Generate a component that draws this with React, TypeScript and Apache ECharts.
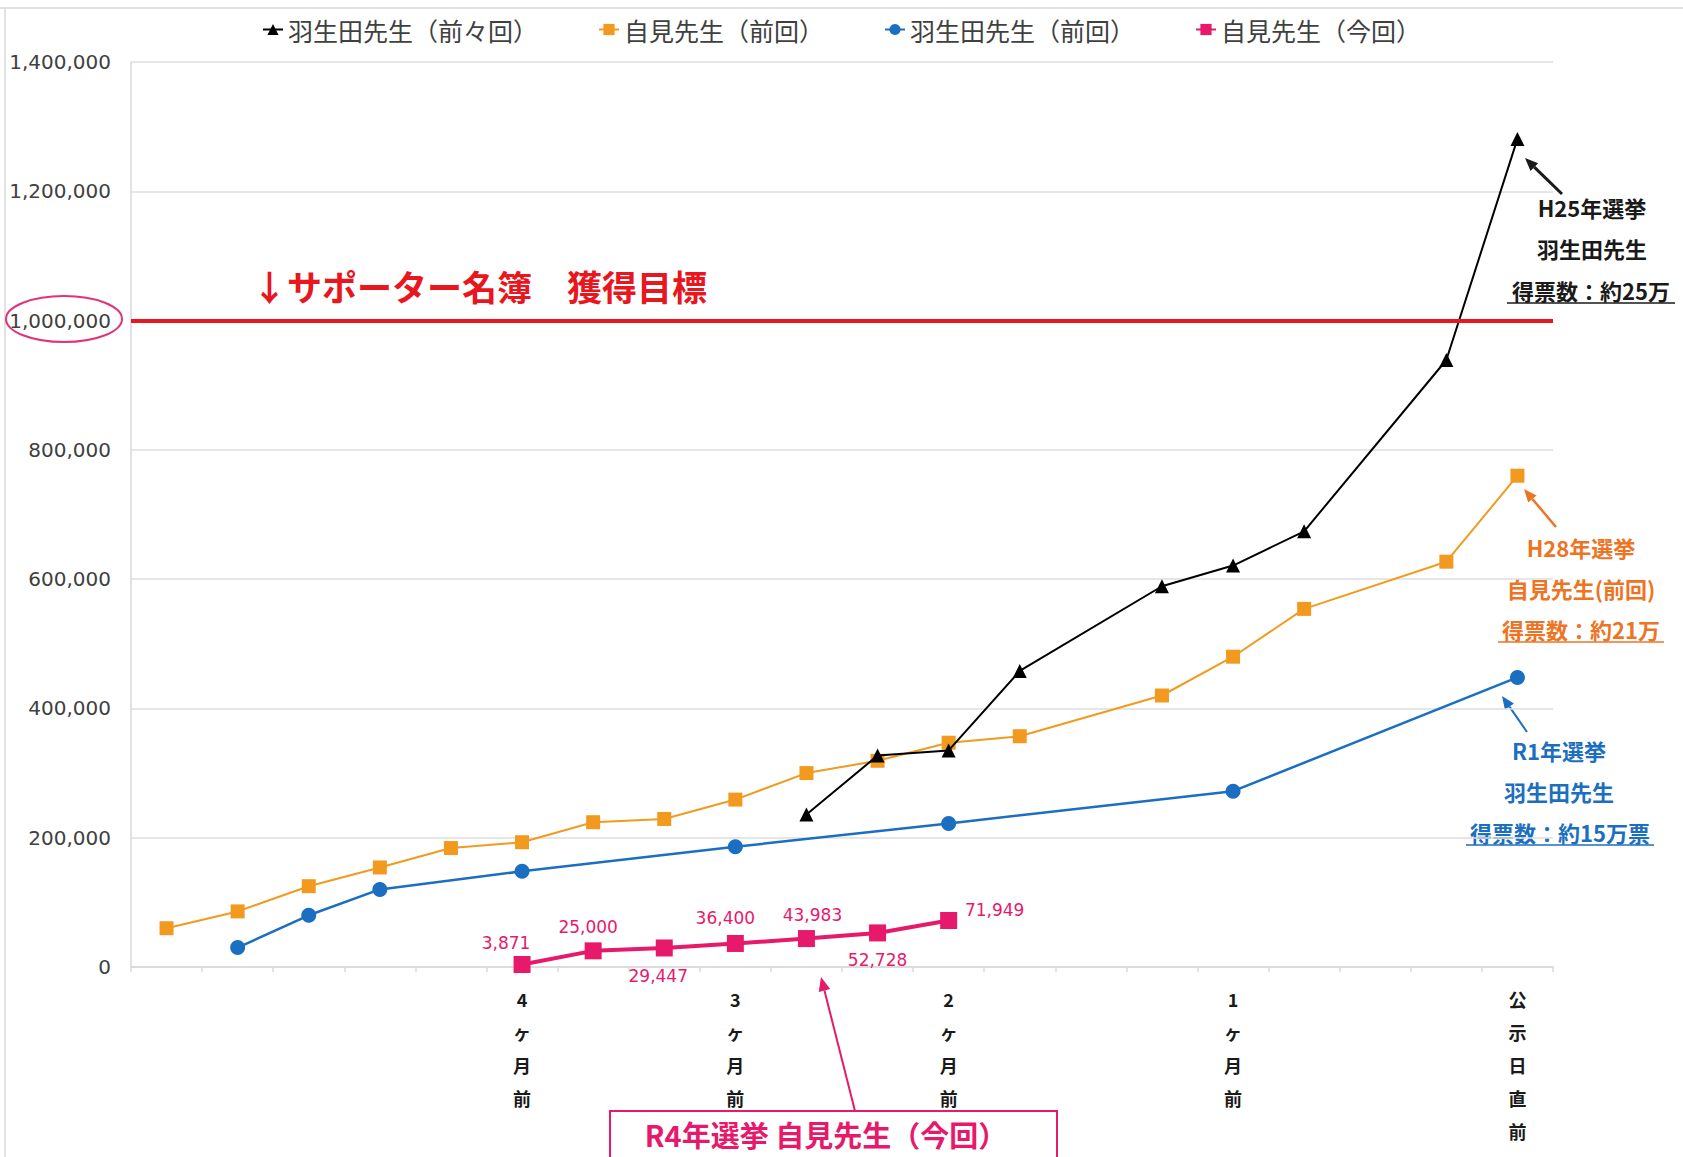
import React, { useEffect, useRef } from "react";
import * as echarts from "echarts";

const categories: string[] = [
  "", "", "", "", "", "4ヶ月前", "", "", "3ヶ月前", "", "", "2ヶ月前",
  "", "", "", "1ヶ月前", "", "", "", "公示日直前",
];

const seriesNames = ["羽生田先生（前々回）", "自見先生（前回）", "羽生田先生（前回）", "自見先生（今回）"];

const hanyudaH25: (number | null)[] = [
  null, null, null, null, null, null, null, null, null, 236000, 327000, 335000,
  458000, null, 589000, 621000, 674000, null, 939000, 1281000,
];
const jimiH28: (number | null)[] = [
  60000, 86000, 125000, 154000, 184000, 193000, 224000, 229000, 259000, 300000, 319000, 347000,
  357000, null, 420000, 480000, 554000, null, 627000, 760000,
];
const hanyudaR1: (number | null)[] = [
  null, 30000, 80000, 120000, null, 148000, null, null, 186000, null, null, 222000,
  null, null, null, 272000, null, null, null, 448000,
];
const jimiR4: (number | null)[] = [
  null, null, null, null, null, 3871, 25000, 29447, 36400, 43983, 52728, 71949,
  null, null, null, null, null, null, null, null,
];
const jimiR4LabelOffsets: [number, number][] = [
  [0, 0], [0, 0], [0, 0], [0, 0], [0, 0], [-16, -21], [-5, -24], [-6, 28], [-10, -25], [6, -24], [0, 27], [46, -10],
  [0, 0], [0, 0], [0, 0], [0, 0], [0, 0], [0, 0], [0, 0], [0, 0],
];
const targetValue = 1000000;
const yMin = 0;
const yMax = 1400000;
const yInterval = 200000;

const CJK = '"Noto Sans CJK JP", "Noto Sans", sans-serif';
const PINK = "#e6196b";
const ORANGE = "#f29a1f";
const BLUE = "#1c6fc0";
const RED = "#e8161e";

function arrow(x1: number, y1: number, x2: number, y2: number, color: string, w: number, head = 13) {
  const ang = Math.atan2(y2 - y1, x2 - x1);
  const hx = x2 - head * Math.cos(ang);
  const hy = y2 - head * Math.sin(ang);
  const px = -Math.sin(ang) * head * 0.42;
  const py = Math.cos(ang) * head * 0.42;
  return [
    { type: "line", silent: true, shape: { x1, y1, x2: hx, y2: hy }, style: { stroke: color, lineWidth: w } },
    {
      type: "polygon",
      silent: true,
      shape: { points: [[x2, y2], [hx + px, hy + py], [hx - px, hy - py]] },
      style: { fill: color },
    },
  ];
}

function sideText(text: string, x: number, y: number, color: string) {
  return {
    type: "text",
    silent: true,
    style: {
      text,
      x,
      y,
      align: "center",
      verticalAlign: "middle",
      font: `bold 22px ${CJK}`,
      fill: color,
    },
  };
}

function underline(cx: number, y: number, w: number, color: string) {
  return {
    type: "line",
    silent: true,
    shape: { x1: cx - w / 2, y1: y, x2: cx + w / 2, y2: y },
    style: { stroke: color, lineWidth: 1.5 },
  };
}

export default function App() {
  const ref = useRef<HTMLDivElement>(null);
  useEffect(() => {
    if (!ref.current) return;
    const chart = echarts.init(ref.current, undefined, { renderer: "svg" });
    const fmt = (v: number) => v.toLocaleString("en-US");
    const option: any = {
      animation: false,
      backgroundColor: "#ffffff",
      legend: {
        top: 12,
        left: "center",
        itemGap: 60,
        itemWidth: 20,
        itemHeight: 14,
        textStyle: { fontSize: 25, color: "#404040", fontFamily: CJK },
        data: seriesNames,
      },
      grid: { left: 131, right: 130, top: 62, bottom: 190 },
      xAxis: {
        type: "category",
        data: categories,
        boundaryGap: true,
        axisLine: { show: true, lineStyle: { color: "#d9d9d9", width: 1.5 } },
        axisTick: { show: true, interval: 0, length: 5, lineStyle: { color: "#d9d9d9", width: 1.5 } },
        axisLabel: {
          interval: 0,
          margin: 15,
          fontSize: 18,
          fontWeight: "bold",
          fontFamily: CJK,
          color: "#1a1a1a",
          lineHeight: 33,
          formatter: (v: string) => v.split("").join("\n"),
        },
      },
      yAxis: {
        type: "value",
        min: yMin,
        max: yMax,
        interval: yInterval,
        axisLine: { show: true, lineStyle: { color: "#d9d9d9", width: 1.5 } },
        axisTick: { show: false },
        splitLine: { lineStyle: { color: "#dedede", width: 1.5 } },
        axisLabel: {
          margin: 20,
          fontSize: 20,
          color: "#404040",
          fontFamily: '"DejaVu Sans", sans-serif',
          formatter: (v: number) => fmt(v),
        },
      },
      series: [
        {
          name: seriesNames[0],
          type: "line",
          data: hanyudaH25,
          connectNulls: true,
          symbol: "triangle",
          symbolSize: 14,
          itemStyle: { color: "#000000" },
          lineStyle: { color: "#000000", width: 2 },
          z: 3,
          markLine: {
            silent: true,
            symbol: "none",
            label: { show: false },
            lineStyle: { color: RED, width: 4, type: "solid" },
            data: [{ yAxis: targetValue }],
          },
        },
        {
          name: seriesNames[1],
          type: "line",
          data: jimiH28,
          connectNulls: true,
          symbol: "rect",
          symbolSize: 14,
          itemStyle: { color: ORANGE },
          lineStyle: { color: ORANGE, width: 2 },
          z: 2,
        },
        {
          name: seriesNames[2],
          type: "line",
          data: hanyudaR1,
          connectNulls: true,
          symbol: "circle",
          symbolSize: 15,
          itemStyle: { color: BLUE },
          lineStyle: { color: BLUE, width: 2.5 },
          z: 2,
        },
        {
          name: seriesNames[3],
          type: "line",
          data: jimiR4.map((v, i) => ({
            value: v,
            label: {
              show: v !== null,
              position: "inside",
              offset: jimiR4LabelOffsets[i],
              formatter: (p: any) => fmt(p.value),
              color: PINK,
              fontSize: 17,
              fontFamily: '"DejaVu Sans", sans-serif',
            },
          })),
          connectNulls: true,
          symbol: "rect",
          symbolSize: 17,
          itemStyle: { color: PINK },
          lineStyle: { color: PINK, width: 4 },
          z: 4,
        },
      ],
      graphic: [
        { type: "line", silent: true, shape: { x1: 0, y1: 8, x2: 1683, y2: 8 }, style: { stroke: "#d9d9d9", lineWidth: 1.5 } },
        { type: "line", silent: true, shape: { x1: 5, y1: 8, x2: 5, y2: 1157 }, style: { stroke: "#d9d9d9", lineWidth: 1.5 } },
        {
          type: "text",
          silent: true,
          style: {
            text: "↓サポーター名簿　獲得目標",
            x: 252,
            y: 285,
            align: "left",
            verticalAlign: "middle",
            font: `bold 35px ${CJK}`,
            fill: RED,
          },
        },
        {
          type: "ellipse",
          silent: true,
          shape: { cx: 64, cy: 319, rx: 58, ry: 23 },
          style: { fill: "none", stroke: "#e0337a", lineWidth: 2 },
        },
        sideText("H25年選挙", 1592, 207, "#1a1a1a"),
        sideText("羽生田先生", 1592, 248, "#1a1a1a"),
        sideText("得票数：約25万", 1591, 290, "#1a1a1a"),
        underline(1591, 303, 168, "#1a1a1a"),
        ...arrow(1562, 194, 1525, 158, "#1a1a1a", 3),
        sideText("H28年選挙", 1581, 547, "#ed7424"),
        sideText("自見先生(前回)", 1581, 588, "#ed7424"),
        sideText("得票数：約21万", 1581, 629, "#ed7424"),
        underline(1581, 642, 166, "#ed7424"),
        ...arrow(1556, 527, 1524, 489, "#ed7424", 2.5),
        sideText("R1年選挙", 1559, 750, BLUE),
        sideText("羽生田先生", 1559, 791, BLUE),
        sideText("得票数：約15万票", 1560, 832, BLUE),
        underline(1560, 845, 188, BLUE),
        ...arrow(1527, 732, 1502, 696, BLUE, 2),
        {
          type: "rect",
          silent: true,
          shape: { x: 610, y: 1111, width: 447, height: 70 },
          style: { fill: "#ffffff", stroke: PINK, lineWidth: 2 },
        },
        {
          type: "text",
          silent: true,
          style: {
            text: "R4年選挙 自見先生（今回）",
            x: 826,
            y: 1134,
            align: "center",
            verticalAlign: "middle",
            font: `bold 29px ${CJK}`,
            fill: PINK,
          },
        },
        ...arrow(855, 1111, 821, 977, PINK, 2, 14),
      ],
    };
    chart.setOption(option);
    return () => chart.dispose();
  }, []);
  return (
    <div
      ref={ref}
      style={{ position: "fixed", left: 0, top: 0, width: 1683, height: 1157, background: "#fff" }}
    />
  );
}
